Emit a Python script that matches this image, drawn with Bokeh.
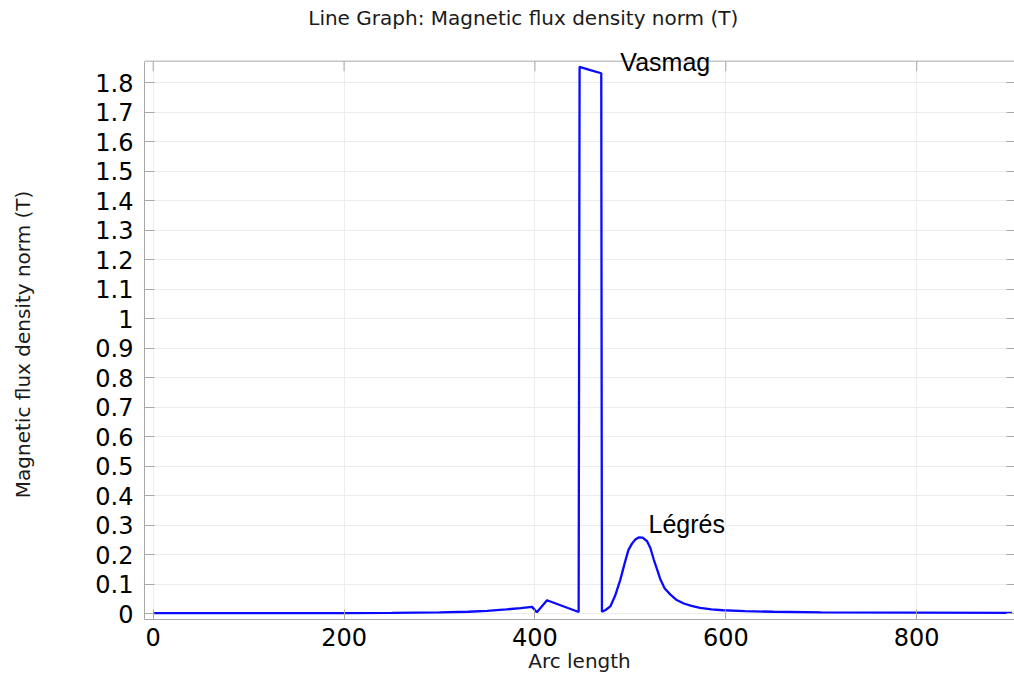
from bokeh.plotting import figure
from bokeh.layouts import row
from bokeh.models import (LinearAxis, FixedTicker, NumeralTickFormatter, Label,
                          CustomJSTickFormatter, Span, BoxAnnotation, Range1d)
from bokeh.embed import file_html
from bokeh.resources import INLINE
import math

# ---- data ----
arc_length = [0, 100, 200, 250, 300, 330, 350, 370, 385, 397, 402, 412.7,
              445.8, 446.8, 458, 469.5, 470.2, 474, 479, 484, 489.5, 494, 498,
              501.7, 505.2, 508.7, 512.9, 517.5, 521, 524.5, 528, 531.5, 536,
              542, 548, 556, 564, 573, 585, 597, 620, 650, 700, 800, 900]
b_norm = [0.001, 0.001, 0.0015, 0.002, 0.004, 0.006, 0.009, 0.014, 0.018,
          0.0225, 0.004, 0.045, 0.005, 1.854, 1.843, 1.832, 0.006, 0.012,
          0.024, 0.06, 0.115, 0.17, 0.216, 0.237, 0.251, 0.258, 0.257,
          0.245, 0.222, 0.183, 0.15, 0.115, 0.085, 0.064, 0.047, 0.034,
          0.026, 0.019, 0.014, 0.011, 0.008, 0.006, 0.004, 0.003, 0.002]
x_ticks = [0, 200, 400, 600, 800]
y_ticks = [0, 0.1, 0.2, 0.3, 0.4, 0.5, 0.6, 0.7, 0.8, 0.9, 1.0,
           1.1, 1.2, 1.3, 1.4, 1.5, 1.6, 1.7, 1.8]
title_text = "Line Graph: Magnetic flux density norm (T)"
x_label = "Arc length"
y_label = "Magnetic flux density norm (T)"
annotation_texts = ["Vasmag", "Légrés"]
annotation_x = [489.5, 519]
annotation_y = [1.869, 0.303]

W, H = 1014, 675
LABEL_STRIP = 40          # narrow strip on the left holding the y-axis label

# axes box (data units)
X_LO, X_HI = -9.1, 902.5
Y_LO, Y_TOP = -0.0203, 1.873
PX_PER_X = 0.954
PX_PER_Y = 295.0
TOP_MARGIN_PX = 60.7
Y_HI = Y_TOP + TOP_MARGIN_PX / PX_PER_Y   # plot area reaches the top of the page

FONT = "DejaVu Sans"
GRID = "#ececec"
FRAME = "#a8a8a8"

# ---- y-axis label strip ----
lab = figure(width=LABEL_STRIP, height=H, x_range=Range1d(0, LABEL_STRIP), y_range=Range1d(0, H),
             x_axis_type=None, y_axis_type=None, output_backend="svg", toolbar_location=None,
             min_border=0)
lab.outline_line_color = None
lab.background_fill_color = "white"
lab.border_fill_color = "white"
lab.add_layout(Label(x=22, y=300, text=y_label, angle=math.pi / 2, text_font=FONT,
                     text_font_size="20px", text_color="#1a1a1a",
                     text_align="center", text_baseline="middle"))

# ---- main plot ----
p = figure(width=W - LABEL_STRIP, height=H, x_range=(X_LO, X_HI), y_range=(Y_LO, Y_HI),
           output_backend="svg", toolbar_location=None,
           min_border_left=144 - LABEL_STRIP, min_border_right=0, min_border_top=0,
           min_border_bottom=56)
p.background_fill_color = "white"
p.border_fill_color = "white"
p.outline_line_color = None

p.xgrid.ticker = FixedTicker(ticks=x_ticks)
p.ygrid.ticker = FixedTicker(ticks=y_ticks)
p.xgrid.grid_line_color = GRID
p.ygrid.grid_line_color = GRID

# white strip above the axes box hides grid lines there
p.add_layout(BoxAnnotation(bottom=Y_TOP, fill_color="white", fill_alpha=1.0,
                           line_color=None, level="underlay"))

p.line(arc_length, b_norm, line_color="#0a0aff", line_width=2.3)

for ax in (p.xaxis[0], p.yaxis[0]):
    ax.major_tick_in = 10
    ax.major_tick_out = 0
    ax.minor_tick_line_color = None
    ax.major_tick_line_color = FRAME
    ax.axis_line_color = FRAME
    ax.major_label_text_font = FONT
    ax.major_label_text_font_size = "24px"
    ax.major_label_text_color = "black"
    ax.axis_label_text_font = FONT
    ax.axis_label_text_font_size = "20px"
    ax.axis_label_text_font_style = "normal"
    ax.axis_label_text_color = "#1a1a1a"

p.xaxis[0].ticker = FixedTicker(ticks=x_ticks)
p.xaxis[0].axis_label = x_label
p.xaxis[0].major_label_standoff = 8
p.xaxis[0].axis_label_standoff = 0

p.yaxis[0].ticker = FixedTicker(ticks=y_ticks)
p.yaxis[0].formatter = NumeralTickFormatter(format="0.[0]")
p.yaxis[0].major_label_standoff = 11
p.yaxis[0].bounds = (Y_LO, Y_TOP)

blank = CustomJSTickFormatter(code="return ''")
right_axis = LinearAxis(ticker=FixedTicker(ticks=y_ticks), formatter=blank, bounds=(Y_LO, Y_TOP),
                        major_tick_in=8, major_tick_out=0, minor_tick_line_color=None,
                        major_tick_line_color=FRAME, axis_line_color=FRAME, major_label_standoff=0)
p.add_layout(right_axis, "right")

# top edge of the axes box and its inward ticks
p.add_layout(Span(location=Y_TOP, dimension="width", line_color=FRAME, line_width=1))
tick_len = 10 / PX_PER_Y
p.segment(x0=x_ticks, y0=[Y_TOP] * len(x_ticks), x1=x_ticks,
          y1=[Y_TOP - tick_len] * len(x_ticks), line_color=FRAME, line_width=1)

# title, placed above the axes box
p.add_layout(Label(x=(308 - 153) / PX_PER_X, y=Y_TOP + (TOP_MARGIN_PX - 17.5) / PX_PER_Y,
                   text=title_text, text_font=FONT, text_font_size="20px",
                   text_color="#1a1a1a", text_baseline="middle", text_align="left"))

for t, x, y in zip(annotation_texts, annotation_x, annotation_y):
    p.add_layout(Label(x=x, y=y, text=t, text_font="Liberation Sans", text_font_size="25px",
                       text_color="black", text_baseline="alphabetic", text_align="left"))

layout = row(lab, p, spacing=0)
open("out.html", "w").write(file_html(layout, INLINE))
